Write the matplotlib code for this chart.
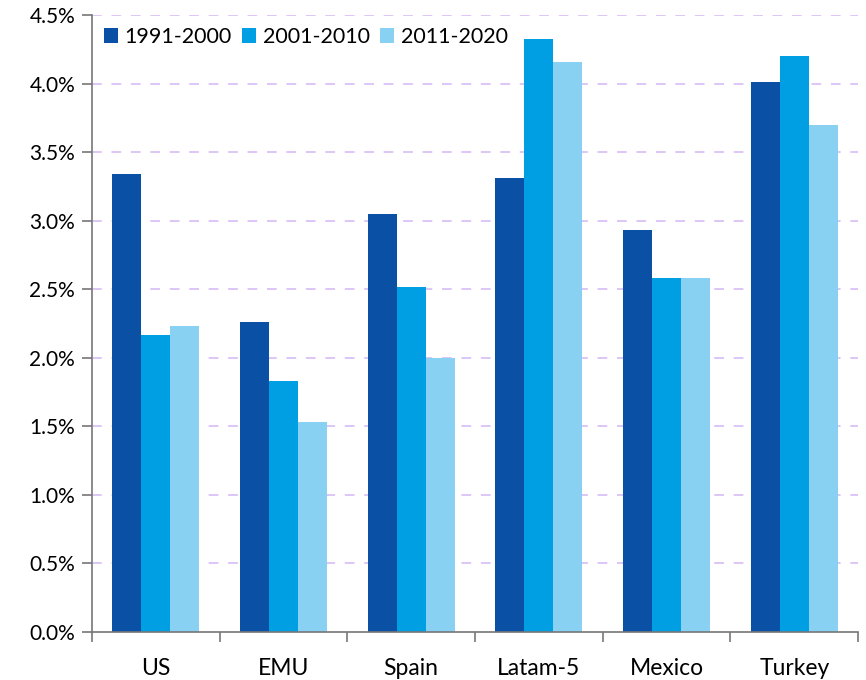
import matplotlib
matplotlib.use("Agg")
import matplotlib.pyplot as plt
import numpy as np
from matplotlib.ticker import FuncFormatter, MultipleLocator

categories = ["US", "EMU", "Spain", "Latam-5", "Mexico", "Turkey"]
series_names = ["1991-2000", "2001-2010", "2011-2020"]
s1991 = [3.34, 2.26, 3.05, 3.31, 2.93, 4.01]
s2001 = [2.17, 1.83, 2.52, 4.33, 2.58, 4.20]
s2011 = [2.23, 1.53, 2.00, 4.16, 2.58, 3.70]
colors = ["#0A51A5", "#009FE3", "#89D1F3"]

plt.rcParams['font.family'] = ['Lato', 'DejaVu Sans']

fig = plt.figure(figsize=(8.66, 6.8), dpi=100)
ax = fig.add_axes([0.106, 0.0706, 0.885, 0.907])

x = np.arange(len(categories))
w = 0.227
for i, (vals, name) in enumerate(zip([s1991, s2001, s2011], series_names)):
    ax.bar(x + (i - 1) * w, vals, width=w, color=colors[i], label=name, zorder=3)

ax.set_xlim(-0.5, len(categories) - 0.5)
ax.set_ylim(0, 4.5)
ax.yaxis.set_major_locator(MultipleLocator(0.5))
ax.yaxis.set_major_formatter(FuncFormatter(lambda v, p: f"{v:.1f}%"))
ax.set_xticks(x)
ax.set_xticklabels(categories)
ax.set_xticks(np.arange(-0.5, len(categories), 1.0), minor=True)
ax.tick_params(axis='x', which='major', length=0, pad=19, labelsize=16.5)
ax.tick_params(axis='x', which='minor', length=7, color='#777777', width=1.2)
ax.tick_params(axis='y', length=7, color='#777777', width=1.2, labelsize=15, pad=5)

for v in np.arange(0.5, 4.51, 0.5):
    ax.axhline(v, color='#DCC6F7', linestyle=(0, (5, 5)), linewidth=1.4, zorder=1)

for s in ['top', 'right']:
    ax.spines[s].set_visible(False)
for s in ['left', 'bottom']:
    ax.spines[s].set_color('#777777')
    ax.spines[s].set_linewidth(1.2)
    ax.spines[s].set_zorder(4)

leg = ax.legend(loc='upper left', ncol=3, frameon=True, fontsize=15.5,
                handlelength=0.65, handleheight=0.65, handletextpad=0.3,
                columnspacing=0.5, borderaxespad=0.1, borderpad=0.45,
                bbox_to_anchor=(0.0, 1.0))
leg.get_frame().set_edgecolor('none')
leg.get_frame().set_facecolor('white')
leg.get_frame().set_alpha(1)
leg.set_zorder(2)

fig.savefig("out.png", dpi=100)
